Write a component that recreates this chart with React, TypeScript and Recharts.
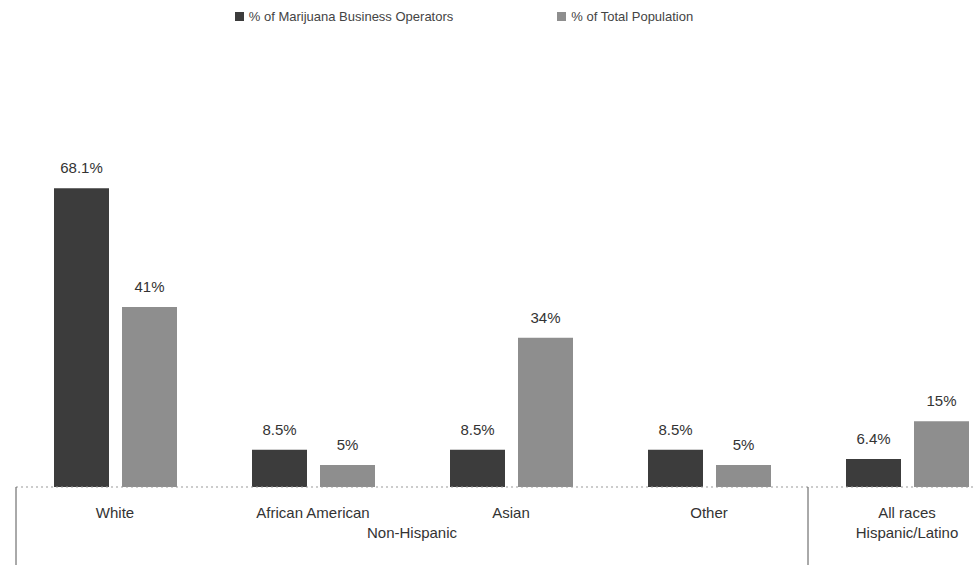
import { BarChart, Bar, XAxis, YAxis, LabelList } from "recharts";

const categories = ["White", "African American", "Asian", "Other", "All races"];
const operatorShare = [68.1, 8.5, 8.5, 8.5, 6.4];
const populationShare = [41, 5, 34, 5, 15];
const groupNames = ["Non-Hispanic", "Hispanic/Latino"];
const groupOfCategory = [0, 0, 0, 0, 1];
const seriesNames = ["% of Marijuana Business Operators", "% of Total Population"];

const data = categories.map((c, i) => ({
  category: c,
  operators: operatorShare[i],
  population: populationShare[i],
}));

const FONT = "'Liberation Sans', Arial, sans-serif";
const DARK = "#3c3c3c";
const LIGHT = "#8e8e8e";
const BAND = 198;

function CategoryTick(props: any) {
  const { x, y, payload } = props;
  const i = categories.indexOf(payload.value);
  const g = groupOfCategory[i];
  const first = groupOfCategory.indexOf(g) === i;
  const count = groupOfCategory.filter((v) => v === g).length;
  return (
    <g>
      <text x={x} y={y + 31} textAnchor="middle" fontSize={15} fill="#333" fontFamily={FONT}>
        {payload.value}
      </text>
      {first && (
        <>
          <line x1={x - BAND / 2} x2={x - BAND / 2} y1={y} y2={y + 78} stroke="#555" strokeWidth={1} />
          <text
            x={x + ((count - 1) * BAND) / 2}
            y={y + 51}
            textAnchor="middle"
            fontSize={15}
            fill="#333"
            fontFamily={FONT}
          >
            {groupNames[g]}
          </text>
        </>
      )}
    </g>
  );
}

export default function App() {
  return (
    <div style={{ position: "fixed", left: 0, top: 0, width: 974, height: 571, overflow: "hidden", background: "#fff" }}>
      <div
        style={{
          position: "absolute",
          top: 9,
          left: 0,
          width: 974,
          display: "flex",
          justifyContent: "center",
          gap: 104,
          paddingRight: 46,
          boxSizing: "border-box",
          fontFamily: FONT,
          fontSize: 13,
          color: "#444",
        }}
      >
        {seriesNames.map((n, i) => (
          <span key={n} style={{ display: "flex", alignItems: "center", gap: 5 }}>
            <span style={{ width: 9, height: 9, background: i === 0 ? DARK : LIGHT, display: "inline-block" }} />
            {n}
          </span>
        ))}
      </div>
      <BarChart
        width={1010}
        height={571}
        data={data}
        margin={{ top: 136, right: 4, left: 16, bottom: 0 }}
        barSize={55}
        barGap={13}
      >
        <XAxis
          dataKey="category"
          height={84}
          tickLine={false}
          tickSize={0}
          tickMargin={0}
          axisLine={{ stroke: "#999", strokeDasharray: "2 3" }}
          tick={<CategoryTick />}
          interval={0}
        />
        <YAxis hide domain={[0, 80]} />
        <Bar dataKey="operators" name={seriesNames[0]} fill={DARK} isAnimationActive={false}>
          <LabelList
            dataKey="operators"
            position="top"
            offset={15}
            formatter={(v: any) => `${v}%`}
            style={{ fontSize: 15, fill: "#333", fontFamily: FONT }}
          />
        </Bar>
        <Bar dataKey="population" name={seriesNames[1]} fill={LIGHT} isAnimationActive={false}>
          <LabelList
            dataKey="population"
            position="top"
            offset={15}
            formatter={(v: any) => `${v}%`}
            style={{ fontSize: 15, fill: "#333", fontFamily: FONT }}
          />
        </Bar>
      </BarChart>
    </div>
  );
}
